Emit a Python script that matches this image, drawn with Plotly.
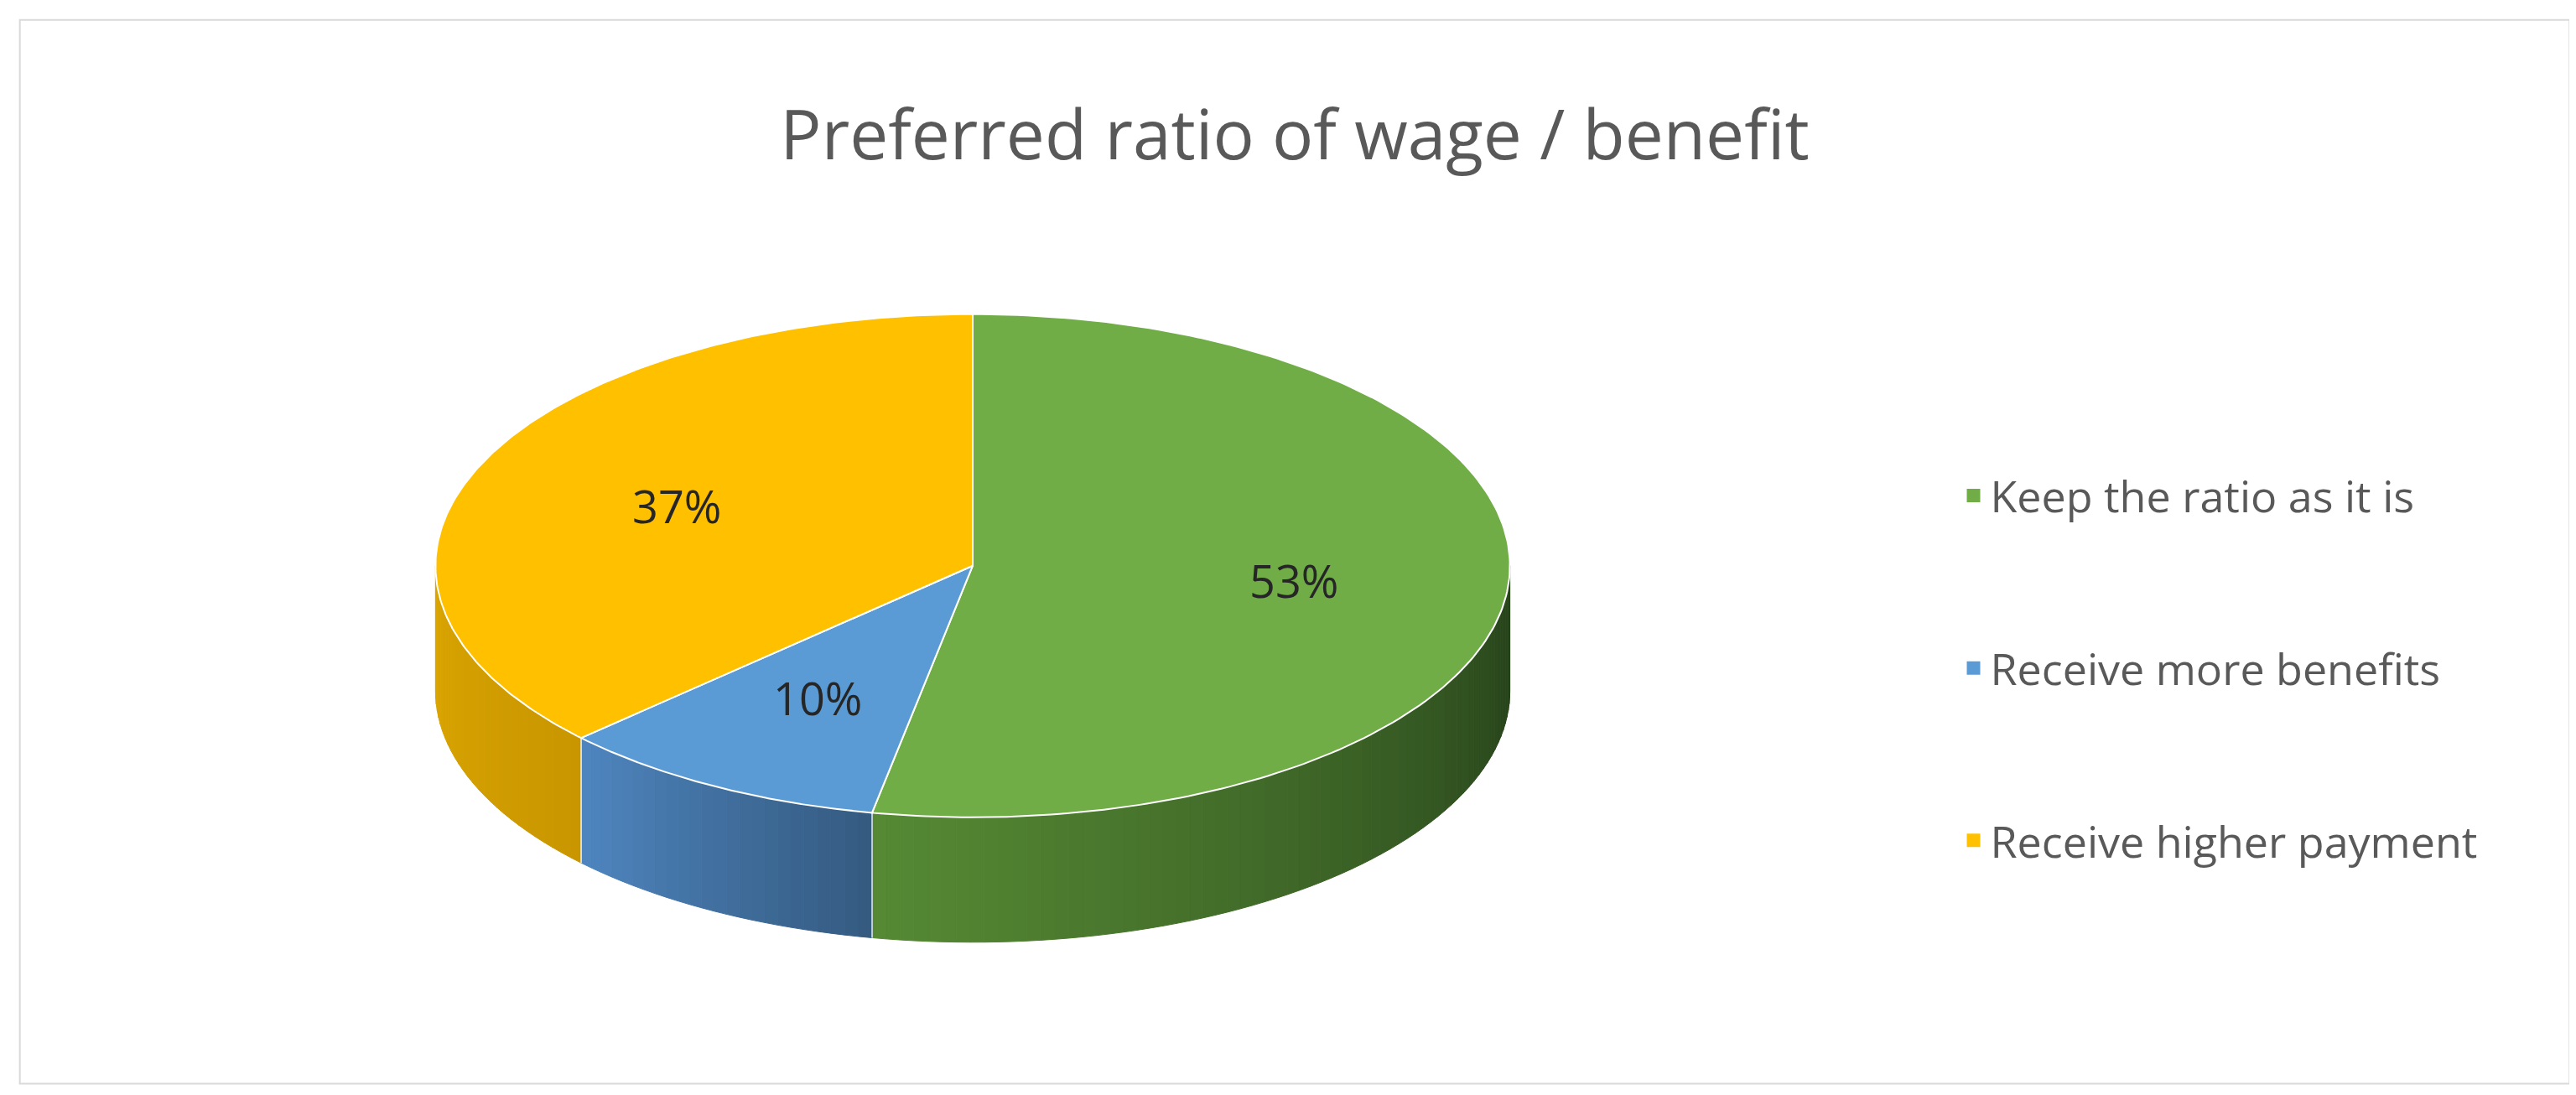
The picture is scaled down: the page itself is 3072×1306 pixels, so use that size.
import numpy as np
import plotly.graph_objects as go

categories = ["Keep the ratio as it is", "Receive more benefits", "Receive higher payment"]
values = [53, 10, 37]
labels = ["53%", "10%", "37%"]
top_colors = ["#70ad47", "#5b9bd5", "#ffc000"]
side_light = ["#568a34", "#4f86c0", "#dba600"]
side_dark = ["#25401a", "#345a80", "#c99600"]

W, H = 1568, 666
cx, cy, rx, ry, depth = 588, 340, 327, 153, 76

def pt(theta_deg, r=1.0, dy=0.0):
    t = np.radians(theta_deg)
    return cx + r * rx * np.sin(t), cy - r * ry * np.cos(t) + dy

def mix(c1, c2, f):
    a = [int(c1[i:i+2], 16) for i in (1, 3, 5)]
    b = [int(c2[i:i+2], 16) for i in (1, 3, 5)]
    return "rgb(%d,%d,%d)" % tuple(round(a[k] + (b[k] - a[k]) * f) for k in range(3))

fig = go.Figure()
total = sum(values)
bounds = np.concatenate([[0], np.cumsum(values)]) / total * 360

for i in range(len(values)):
    a, b = bounds[i], bounds[i + 1]
    lo, hi = max(a, 90), min(b, 270)
    if hi <= lo:
        continue
    n = max(2, int((hi - lo) / 1.5))
    th = np.linspace(lo, hi, n + 1)
    for k in range(n):
        x0, y0 = pt(th[k]); x1, y1 = pt(th[k + 1])
        f = (hi - (th[k] + th[k + 1]) / 2) / (hi - lo)
        col = mix(side_light[i], side_dark[i], f)
        fig.add_trace(go.Scatter(x=[x0, x1, x1, x0, x0], y=[y0, y1, y1 + depth, y0 + depth, y0],
                                 fill="toself", fillcolor=col, mode="lines",
                                 line=dict(color=col, width=1), showlegend=False, hoverinfo="skip"))
    for t in (lo, hi):
        if 90 < t < 270:
            x0, y0 = pt(t)
            fig.add_trace(go.Scatter(x=[x0, x0], y=[y0, y0 + depth], mode="lines",
                                     line=dict(color="rgba(255,255,255,0.8)", width=1.5),
                                     showlegend=False, hoverinfo="skip"))

for i in range(len(values)):
    a, b = bounds[i], bounds[i + 1]
    th = np.linspace(a, b, 200)
    xs, ys = pt(th)
    xs = np.concatenate([[cx], xs, [cx]]); ys = np.concatenate([[cy], ys, [cy]])
    fig.add_trace(go.Scatter(x=xs, y=ys, fill="toself", fillcolor=top_colors[i], mode="lines",
                             line=dict(color="white", width=2), showlegend=False, hoverinfo="skip"))
    mx, my = pt((a + b) / 2, 0.6)
    fig.add_annotation(x=mx, y=my, text=labels[i], showarrow=False,
                       font=dict(size=54, color="#262626", family="Open Sans"))

for i in range(len(values)):
    fig.add_trace(go.Scatter(x=[None], y=[None], mode="markers", name=categories[i],
                             legendgroup=categories[i],
                             marker=dict(symbol="square", size=18, color=top_colors[i])))

fig.add_shape(type="rect", xref="x", yref="y", x0=8, y0=8, x1=1560, y1=655,
              line=dict(color="#d9d9d9", width=2), layer="below")

fig.update_layout(
    width=3072, height=1306, margin=dict(l=0, r=0, t=0, b=0),
    paper_bgcolor="white", plot_bgcolor="white",
    xaxis=dict(range=[0, W], visible=False, fixedrange=True),
    yaxis=dict(range=[H, 0], visible=False, fixedrange=True),
    title=dict(text="Preferred ratio of wage / benefit", x=0.5, y=0.883, xanchor="center", yanchor="middle",
               font=dict(size=82, color="#595959", family="Open Sans")),
    legend=dict(x=0.757, y=0.396, xanchor="left", yanchor="middle", tracegroupgap=135,
                font=dict(size=52, color="#595959", family="Open Sans"), itemwidth=30),
)
fig.write_html("out.html")
